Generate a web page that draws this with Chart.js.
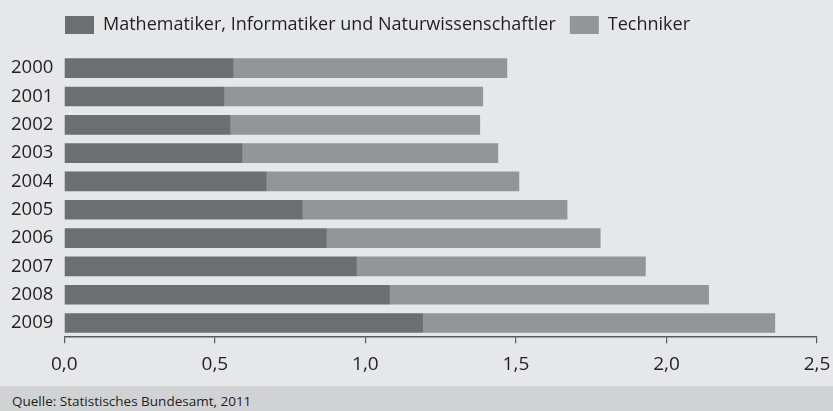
<!DOCTYPE html>
<html>
<head>
<meta charset="utf-8">
<script src="https://cdn.jsdelivr.net/npm/chart.js@4/dist/chart.umd.min.js"></script>
<style>
    html, body { margin: 0; padding: 0; background: #e6e7e8; }
    #wrap { width: 833px; height: 386px; position: relative; }
    #quelle {
        width: 833px; height: 25px; background: #d1d2d4; color: #231f20;
        font-family: "Open Sans", sans-serif; font-size: 13.5px; line-height: 30px;
        box-sizing: border-box; padding-left: 12px;
    }
</style>
</head>
<body>
<div id="wrap"><canvas id="chart" width="833" height="386"></canvas></div>
<div id="quelle">Quelle: Statistisches Bundesamt, 2011</div>
<script>
const years = ['2000', '2001', '2002', '2003', '2004', '2005', '2006', '2007', '2008', '2009'];
const mathInfoNatur = [0.56, 0.53, 0.55, 0.59, 0.67, 0.79, 0.87, 0.97, 1.08, 1.19];
const techniker = [0.91, 0.86, 0.83, 0.85, 0.84, 0.88, 0.91, 0.96, 1.06, 1.17];
const seriesLabels = ['Mathematiker, Informatiker und Naturwissenschaftler', 'Techniker'];

const textColor = '#231f20';
const font = 'Open Sans';

// legend sits above the bars, not at the page edge
const moveLegend = {
    id: 'moveLegend',
    afterLayout(chart) {
        chart.legend.left = 51;
        chart.legend.top -= 10;
    }
};

const ctx = document.getElementById('chart').getContext('2d');
const chart = new Chart(ctx, {
    type: 'bar',
    data: {
        labels: years,
        datasets: [
            {
                label: seriesLabels[0],
                data: mathInfoNatur,
                backgroundColor: '#6d6e71',
                borderWidth: 0
            },
            {
                label: seriesLabels[1],
                data: techniker,
                backgroundColor: '#939598',
                borderWidth: 0
            }
        ]
    },
    options: {
        indexAxis: 'y',
        responsive: false,
        animation: false,
        barThickness: 19,
        layout: {
            padding: { left: 0, right: 0, top: 12, bottom: 0 }
        },
        plugins: {
            legend: {
                position: 'top',
                align: 'start',
                labels: {
                    boxWidth: 29,
                    boxHeight: 18,
                    padding: 14,
                    color: textColor,
                    font: { family: font, size: 18 }
                }
            },
            tooltip: { enabled: false }
        },
        scales: {
            x: {
                stacked: true,
                min: 0,
                max: 2.5,
                afterFit(scale) {
                    scale.paddingRight = 16;
                },
                grid: {
                    display: true,
                    drawOnChartArea: false,
                    drawTicks: true,
                    tickLength: 6,
                    color: '#58595b',
                    lineWidth: 1.2
                },
                border: { display: true, color: '#58595b', width: 1.5 },
                ticks: {
                    stepSize: 0.5,
                    padding: 10,
                    color: textColor,
                    font: { family: font, size: 19 },
                    callback: (v) => v.toFixed(1).replace('.', ',')
                }
            },
            y: {
                stacked: true,
                grid: { display: false, drawTicks: false },
                border: { display: false },
                ticks: {
                    padding: 11,
                    color: textColor,
                    font: { family: font, size: 18.5 }
                }
            }
        }
    },
    plugins: [moveLegend]
});
</script>
</body>
</html>
